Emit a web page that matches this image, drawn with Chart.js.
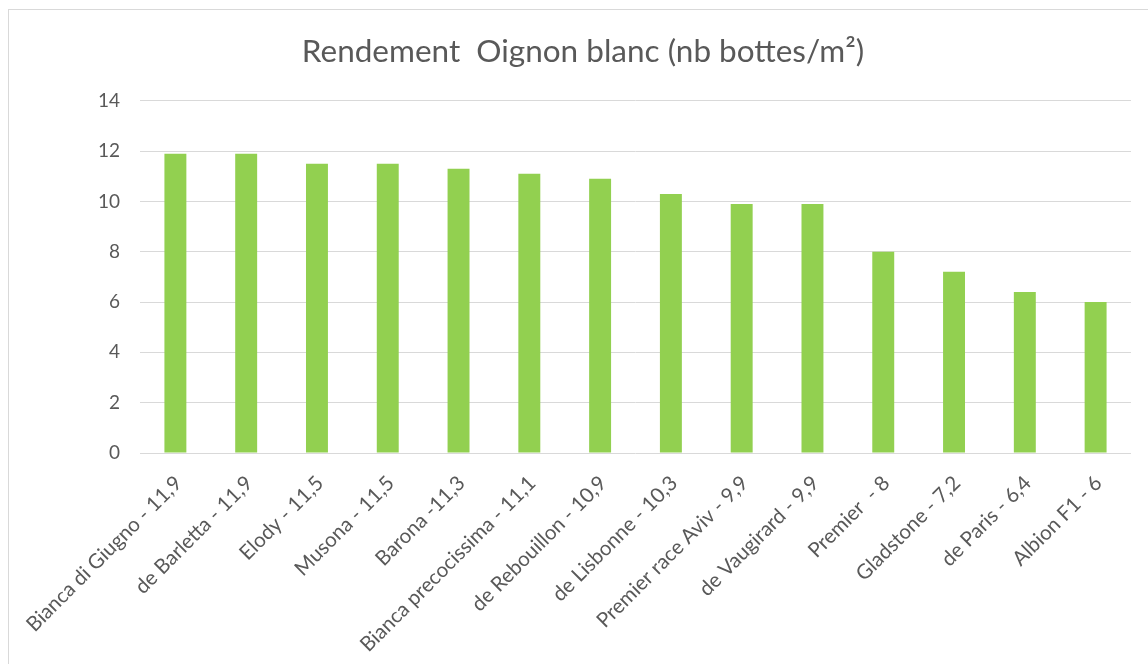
<!DOCTYPE html>
<html>
<head>
<meta charset="utf-8">
<script src="https://cdn.jsdelivr.net/npm/chart.js@4/dist/chart.umd.min.js"></script>
<style>
  html, body { margin: 0; padding: 0; background: #fff; overflow: hidden; }
  .frame { position: absolute; left: 8px; top: 9px; width: 1200px; height: 700px; border: 1px solid #d9d9d9; }
  #yieldChart { position: absolute; left: 0; top: 0; }
</style>
</head>
<body>
<div class="frame"></div>
<canvas id="yieldChart" width="1148" height="664"></canvas>
<script>
const varieties = [
  'Bianca di Giugno - 11,9',
  'de Barletta - 11,9',
  'Elody - 11,5',
  'Musona - 11,5',
  'Barona -11,3',
  'Bianca precocissima - 11,1',
  'de Rebouillon - 10,9',
  'de Lisbonne - 10,3',
  'Premier race Aviv - 9,9',
  'de Vaugirard - 9,9',
  'Premier  - 8',
  'Gladstone - 7,2',
  'de Paris - 6,4',
  'Albion F1 - 6',
];
const bunchesPerM2 = [11.9, 11.9, 11.5, 11.5, 11.3, 11.1, 10.9, 10.3, 9.9, 9.9, 8, 7.2, 6.4, 6];
const yTicks = [0, 2, 4, 6, 8, 10, 12, 14];

const textColor = '#595959';
const gridColor = '#d9d9d9';

new Chart(document.getElementById('yieldChart'), {
  type: 'bar',
  data: {
    labels: varieties,
    datasets: [
      {
        data: bunchesPerM2,
        backgroundColor: '#92d050',
        barPercentage: 0.31,
        categoryPercentage: 1,
      },
    ],
  },
  options: {
    responsive: false,
    animation: false,
    // uneven side padding so the title sits where it does in the original
    layout: { padding: { left: 35, right: 17, top: 0, bottom: 0 } },
    plugins: {
      legend: { display: false },
      tooltip: { enabled: false },
      title: {
        display: true,
        text: 'Rendement  Oignon blanc (nb bottes/m²)',
        color: textColor,
        font: { family: 'Lato', size: 31.5, weight: 'normal' },
        padding: { top: 33, bottom: 30 },
      },
    },
    scales: {
      x: {
        grid: { display: false },
        border: { display: false },
        ticks: {
          color: textColor,
          font: { family: 'Lato', size: 20.5 },
          minRotation: 45,
          maxRotation: 45,
          autoSkip: false,
          padding: 10,
          labelOffset: 3,
        },
        afterFit: (scale) => { scale.height = 211; },
      },
      y: {
        min: 0,
        max: 14,
        afterBuildTicks: (scale) => { scale.ticks = yTicks.map((v) => ({ value: v })); },
        grid: { color: gridColor, drawTicks: false },
        border: { display: false },
        ticks: {
          color: textColor,
          font: { family: 'Lato', size: 19 },
          padding: 20,
        },
        afterFit: (scale) => { scale.width = 105; },
      },
    },
  },
});
</script>
</body>
</html>
